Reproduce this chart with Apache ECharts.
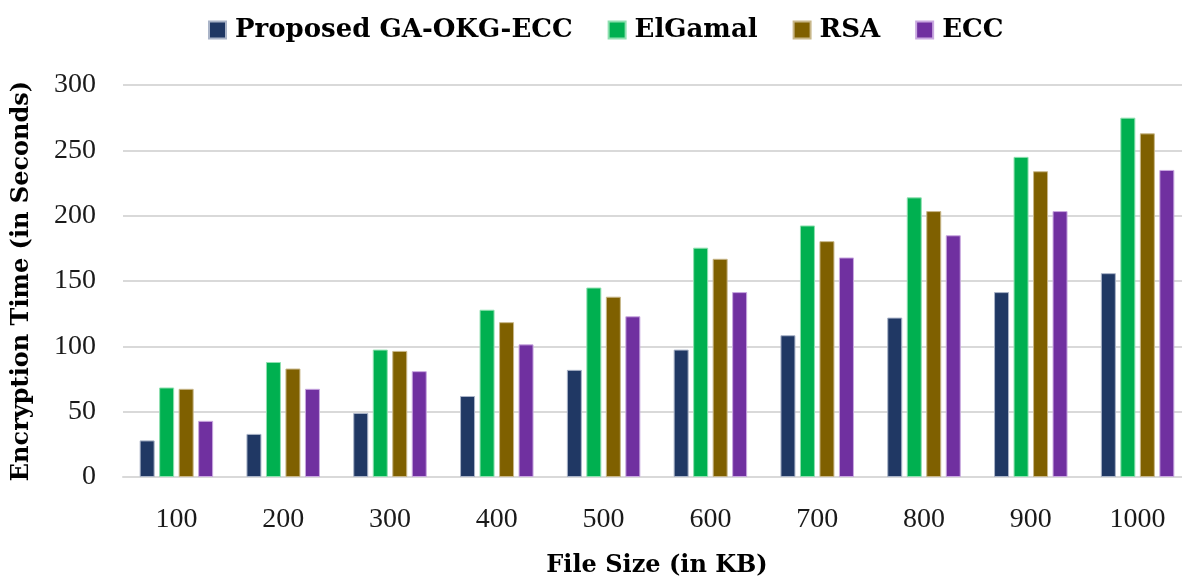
<!DOCTYPE html>
<html>
<head>
<meta charset="utf-8">
<script src="https://cdn.jsdelivr.net/npm/echarts@6/dist/echarts.min.js"></script>
<style>
html,body{margin:0;padding:0;background:#fff;}
#chart{width:1182px;height:579px;}
</style>
</head>
<body>
<div id="chart"></div>
<script>
const categories = ['100','200','300','400','500','600','700','800','900','1000'];
const seriesNames = ['Proposed GA-OKG-ECC','ElGamal','RSA','ECC'];
const proposed = [28, 33, 49, 62, 82, 97.5, 108.5, 122, 141.5, 156];
const elgamal  = [68.5, 88, 97.5, 128, 145, 175.5, 192.5, 214, 245, 275];
const rsa      = [67.5, 83, 96.5, 118.5, 138, 167, 180.5, 203.5, 234, 263];
const ecc      = [43, 67.5, 81, 101.5, 123, 141.5, 168, 185, 203.5, 235];
const yTicks = [0, 50, 100, 150, 200, 250, 300];
const colors = ['#203864', '#00B050', '#7F6000', '#7030A0'];
const borders = ['#aab4c8', '#8fe0b0', '#c8b78a', '#c9a8e0'];

const TITLE_FONT = 'DejaVu Serif';
const NUM_FONT = 'Liberation Serif';
const dataSets = [proposed, elgamal, rsa, ecc];

const chart = echarts.init(document.getElementById('chart'), null, {renderer: 'canvas'});
chart.setOption({
  animation: false,
  backgroundColor: '#ffffff',
  textStyle: {fontFamily: TITLE_FONT},
  legend: {
    top: 12,
    left: 203,
    itemWidth: 17,
    itemHeight: 17,
    itemGap: 35,
    icon: 'rect',
    textStyle: {fontFamily: TITLE_FONT, fontWeight: 'bold', fontSize: 26, color: '#000', padding: [0, 0, 0, 4]},
    data: seriesNames
  },
  grid: {left: 123, top: 85, width: 1068, height: 392, containLabel: false, outerBoundsMode: 'none'},
  xAxis: {
    type: 'category',
    data: categories,
    axisLine: {show: true, lineStyle: {color: '#d9d9d9', width: 2}},
    axisTick: {show: false},
    axisLabel: {fontFamily: NUM_FONT, fontSize: 28, color: '#1a1a1a', margin: 29},
    name: 'File Size (in KB)',
    nameLocation: 'middle',
    nameGap: 77,
    nameTextStyle: {fontFamily: TITLE_FONT, fontWeight: 'bold', fontSize: 24, color: '#000'}
  },
  yAxis: {
    type: 'value',
    min: yTicks[0],
    max: yTicks[yTicks.length - 1],
    interval: 50,
    axisLine: {show: false},
    axisTick: {show: false},
    splitLine: {lineStyle: {color: '#d9d9d9', width: 2}},
    axisLabel: {fontFamily: NUM_FONT, fontSize: 28, color: '#1a1a1a', margin: 27},
    name: 'Encryption Time (in Seconds)',
    nameLocation: 'middle',
    nameGap: 89,
    nameRotate: 90,
    nameTextStyle: {fontFamily: TITLE_FONT, fontWeight: 'bold', fontSize: 24, color: '#000'}
  },
  series: seriesNames.map((n, i) => ({
    name: n,
    type: 'bar',
    data: dataSets[i],
    barWidth: 15,
    barGap: '30%',
    itemStyle: {color: colors[i], borderColor: borders[i], borderWidth: 1}
  }))
});
</script>
</body>
</html>
